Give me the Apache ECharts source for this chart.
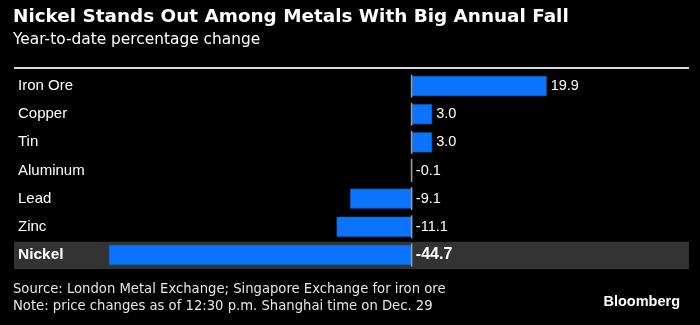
<!DOCTYPE html>
<html>
<head>
<meta charset="utf-8">
<script src="https://cdn.jsdelivr.net/npm/echarts@6/dist/echarts.min.js"></script>
<style>
  html, body { margin: 0; padding: 0; background: #000; }
  #chart { width: 700px; height: 325px; }
</style>
</head>
<body>
<div id="chart"></div>
<script>
// Metals, top to bottom
const metals = ['Iron Ore', 'Copper', 'Tin', 'Aluminum', 'Lead', 'Zinc', 'Nickel'];
// Year-to-date % change
const changes = [19.9, 3.0, 3.0, -0.1, -9.1, -11.1, -44.7];
// Row that gets the highlight band
const highlighted = 'Nickel';

const axisMin = -58.7;
const axisMax = 40.9;
const blue = '#0a74ff';
const labelFont = '"Liberation Sans", Arial, sans-serif';
const headFont = '"DejaVu Sans", sans-serif';

const chart = echarts.init(document.getElementById('chart'), null, { renderer: 'canvas' });

const barData = changes.map((v, i) => {
  const bold = metals[i] === highlighted;
  return {
    value: v,
    label: {
      fontWeight: bold ? 'bold' : 'normal',
      fontSize: bold ? 16 : 14.5
    }
  };
});

chart.setOption({
  backgroundColor: '#000',
  animation: false,
  title: [
    {
      text: 'Nickel Stands Out Among Metals With Big Annual Fall',
      left: 13, top: 8, padding: 0,
      textStyle: { color: '#fff', fontFamily: headFont, fontWeight: 'bold', fontSize: 18.4 }
    },
    {
      text: 'Year-to-date percentage change',
      left: 13, top: 32, padding: 0,
      textStyle: { color: '#fff', fontFamily: headFont, fontWeight: 'normal', fontSize: 15.4 }
    },
    {
      text: 'Source: London Metal Exchange; Singapore Exchange for iron ore\nNote: price changes as of 12:30 p.m. Shanghai time on Dec. 29',
      left: 13, top: 281, padding: 0,
      textStyle: { color: '#e6e6e6', fontFamily: headFont, fontWeight: 'normal', fontSize: 13.2, lineHeight: 17 }
    },
    {
      text: 'Bloomberg',
      right: 20, top: 294, padding: 0,
      textStyle: { color: '#fff', fontFamily: labelFont, fontWeight: 'bold', fontSize: 14.5 }
    }
  ],
  graphic: [
    {
      type: 'line',
      shape: { x1: 14, y1: 68, x2: 689, y2: 68 },
      style: { stroke: '#d9d9d9', lineWidth: 2 }
    }
  ],
  grid: { left: 14, right: 11, top: 72, bottom: 56, containLabel: false },
  xAxis: {
    type: 'value',
    min: axisMin,
    max: axisMax,
    show: false
  },
  yAxis: {
    type: 'category',
    data: metals,
    inverse: true,
    axisLine: { show: false },
    axisTick: { show: false },
    splitLine: { show: false },
    axisLabel: {
      inside: true,
      margin: 4,
      color: '#fff',
      fontFamily: labelFont,
      fontSize: 15,
      formatter: v => v === highlighted ? '{b|' + v + '}' : v,
      rich: { b: { fontWeight: 'bold', fontSize: 15.5, color: '#fff', fontFamily: labelFont } }
    },
    z: 5
  },
  series: [
    {
      // highlight band behind the chosen row
      type: 'custom',
      z: 0,
      silent: true,
      data: metals.map((m, i) => [i]),
      renderItem: (params, api) => {
        const idx = api.value(0);
        if (metals[idx] !== highlighted) return null;
        const cs = params.coordSys;
        const center = api.coord([0, idx]);
        const band = api.size([0, 1])[1];
        return {
          type: 'rect',
          shape: { x: cs.x, y: center[1] - band / 2 + 1, width: cs.width, height: band - 1 },
          style: { fill: '#333333' }
        };
      }
    },
    {
      type: 'bar',
      z: 2,
      data: barData,
      barWidth: 20,
      itemStyle: { color: blue, borderColor: '#1a5cb8', borderWidth: 0.6 },
      label: {
        show: true,
        position: 'right',
        distance: 4,
        color: '#fff',
        fontFamily: labelFont,
        fontSize: 14.5,
        formatter: p => p.value.toFixed(1)
      }
    },
    {
      // zero reference marks, one per row
      type: 'custom',
      z: 3,
      silent: true,
      data: metals.map((m, i) => [0, i]),
      renderItem: (params, api) => {
        const p = api.coord([api.value(0), api.value(1)]);
        return {
          type: 'rect',
          shape: { x: p[0] - 1, y: p[1] - 11.5, width: 1.6, height: 23 },
          style: { fill: '#9a9a9a' }
        };
      }
    }
  ]
});
</script>
</body>
</html>
